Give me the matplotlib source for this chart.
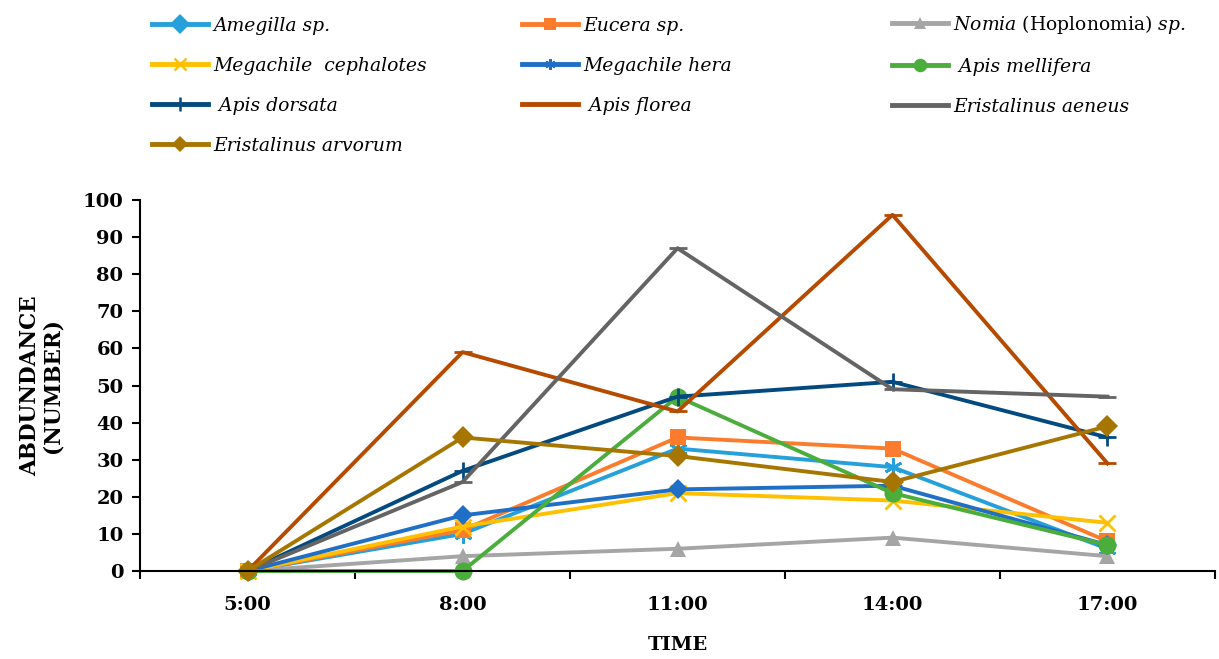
import matplotlib
matplotlib.use("Agg")
import matplotlib.pyplot as plt
from matplotlib.lines import Line2D

plt.rcParams['font.family'] = ['DejaVu Serif']
plt.rcParams['mathtext.fontset'] = 'custom'
plt.rcParams['mathtext.rm'] = 'DejaVu Serif'
plt.rcParams['mathtext.it'] = 'DejaVu Serif:italic'

times = ["5:00", "8:00", "11:00", "14:00", "17:00"]

species = [
    "Amegilla sp.",
    "Eucera sp.",
    r"Nomia $\mathrm{(Hoplonomia)}$ sp.",
    "Megachile  cephalotes",
    "Megachile hera",
    " Apis mellifera",
    " Apis dorsata",
    " Apis florea",
    "Eristalinus aeneus",
    "Eristalinus arvorum",
]

amegilla = [0, 10, 33, 28, 6]
eucera = [0, 11, 36, 33, 8]
nomia = [0, 4, 6, 9, 4]
cephalotes = [0, 12, 21, 19, 13]
hera = [0, 15, 22, 23, 7]
mellifera = [0, 0, 47, 21, 7]
dorsata = [0, 27, 47, 51, 36]
florea = [0, 59, 43, 96, 29]
aeneus = [0, 24, 87, 49, 47]
arvorum = [0, 36, 31, 24, 39]

values = [amegilla, eucera, nomia, cephalotes, hera,
          mellifera, dorsata, florea, aeneus, arvorum]

colors = ['#25A0DA', '#FA7C2C', '#A5A5A5', '#FFC000', '#1F6FC6',
          '#4AAD3C', '#034A80', '#B64A00', '#646464', '#A67600']
ASTER = (6, 2, 0)
# markers on the lines (as drawn in the chart)
plot_markers = [ASTER, 's', '^', 'x', 'D', 'o', '+', '_', '_', 'D']
# markers shown in the legend
legend_markers = ['D', 's', '^', 'x', ASTER, 'o', '+', '_', '_', 'D']
msizes = [13, 12, 12, 12, 10, 13, 13, 13, 13, 11]
thin = ('x', '+', '_', ASTER)

fig = plt.figure(figsize=(12.19, 6.59), dpi=100)
ax = fig.add_axes([0.1149, 0.1335, 0.8818, 0.563])

x = list(range(len(times)))
for vals, c, m, ms in zip(values, colors, plot_markers, msizes):
    ax.plot(x, vals, color=c, lw=2.8, marker=m, markersize=ms,
            markeredgewidth=2.0 if m in thin else 0,
            markeredgecolor=c, clip_on=False)

ax.set_xlim(-0.5, 4.5)
ax.set_ylim(0, 100)
ax.set_yticks(range(0, 101, 10))
ax.set_xticks(x)
ax.set_xticklabels(times)
ax.set_xticks([i + 0.5 for i in range(-1, 5)], minor=True)
ax.tick_params(axis='x', which='major', length=0, pad=18)
ax.tick_params(axis='x', which='minor', length=6, width=1.5, direction='out')
ax.tick_params(axis='y', length=6, width=1.5, direction='out', pad=6)
for lab in ax.get_xticklabels() + ax.get_yticklabels():
    lab.set_fontsize(14)
    lab.set_fontweight('bold')

for s in ('top', 'right'):
    ax.spines[s].set_visible(False)
for s in ('left', 'bottom'):
    ax.spines[s].set_linewidth(1.5)

ax.set_xlabel("TIME", fontsize=14, fontweight='bold', labelpad=16)
ax.set_ylabel("ABDUNDANCE\n(NUMBER)", fontsize=15.5, fontweight='bold',
              labelpad=14, linespacing=1.0)

handles = [Line2D([], [], color=c, lw=3.5, marker=m, markersize=ms * 0.75,
                  markeredgewidth=1.8 if m in thin else 0,
                  markeredgecolor=c)
           for c, m, ms in zip(colors, legend_markers, msizes)]

# legend in three columns, filled row by row
col_x = [152, 522, 892]
col_top = [17, 17, 13]
for j, (cx, cy) in enumerate(zip(col_x, col_top)):
    idx = list(range(j, len(species), 3))
    fig.legend([handles[i] for i in idx], [species[i] for i in idx],
               loc='upper left', bbox_to_anchor=(cx / 1219, 1 - cy / 659),
               ncol=1, frameon=False, prop={'style': 'italic', 'size': 13.5},
               handlelength=3.0, handletextpad=0.25,
               labelspacing=1.17, borderpad=0, borderaxespad=0)

fig.savefig("out.png", dpi=100)
